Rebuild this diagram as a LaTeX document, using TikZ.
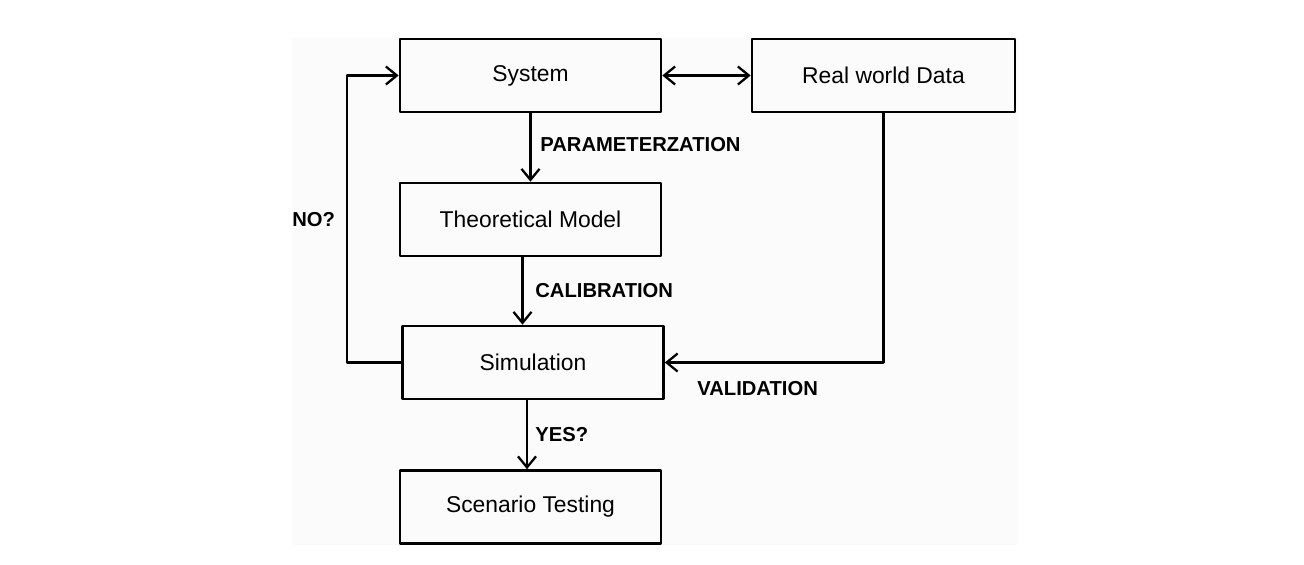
\documentclass[tikz,border=0pt]{standalone}
\usepackage{fontspec}
\setmainfont{Liberation Sans}
\usetikzlibrary{arrows.meta}
\begin{document}
\begin{tikzpicture}[line join=round, line cap=round, >={Straight Barb[length=2.2mm,width=3.6mm,line width=1.3pt]},
		box/.style={draw, line width=1.5pt, minimum width=5.22cm, minimum height=1.46cm, inner sep=0pt, font=\fontsize{13}{15}\selectfont},
		lab/.style={anchor=west, inner sep=0pt, font=\fontsize{11.5}{13}\selectfont\bfseries},
		arr/.style={->, line width=1.4pt}]
				\useasboundingbox (0,0) rectangle (26.08,-11.28);
				\fill[black!1.5] (5.84,-0.74) rectangle (20.36,-10.9);
				% boxes
				\node[box] (sys) at (10.61,-1.51) {System};
				\node[box, minimum width=5.26cm] (data) at (17.67,-1.51) {Real world Data};
				\node[box] (theo) at (10.61,-4.39) {Theoretical Model};
				\node[box] (sim) at (10.66,-7.25) {Simulation};
				\node[box] (scen) at (10.61,-10.14) {Scenario Testing};
				% labels
				\node[lab] (param) at (10.8,-2.9) {PARAMETERZATION};
				\node[lab] (calib) at (10.7,-5.82) {CALIBRATION};
				\node[lab] (yes) at (10.7,-8.7) {YES?};
				\node[lab] (valid) at (13.94,-7.78) {VALIDATION};
				\node[lab] (no) at (5.84,-4.4) {NO?};
				% connectors
				\draw[arr] (sys) -- (theo);
				\draw[arr] ([xshift=-1.6mm]theo.south) -- ([xshift=-1.6mm]theo.south |- sim.north);
				\draw[arr] ([xshift=-1.2mm]sim.south) -- ([xshift=-1.2mm]sim.south |- scen.north);
				\draw[arr, <->] (sys.east) -- (data.west);
				\draw[arr] (data.south) |- (sim.east);
				\draw[arr] (sim.west) -- ++(-1.08,0) |- (sys.west);
			\end{tikzpicture}
\end{document}
